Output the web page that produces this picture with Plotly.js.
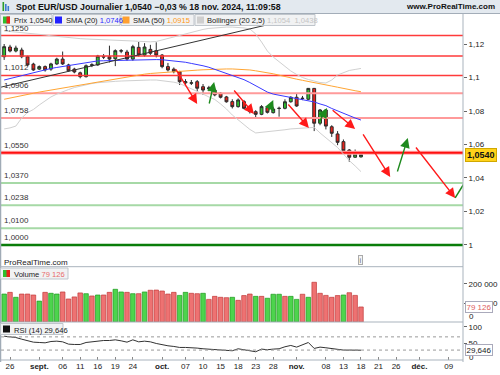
<!DOCTYPE html>
<html><head><meta charset="utf-8">
<script src="https://cdn.plot.ly/plotly-3.0.1.min.js"></script>
<style>html,body{margin:0;padding:0;background:#fff}#c{width:500px;height:375px}</style>
</head><body><div id="c"></div>
<script>
// ---------- DATA (daily bars, first bar = 23 Aug 2024) ----------
const firstDay = '2024-08-23';
const open  = [1.1124,1.1182,1.1158,1.1164,1.1124,1.1080,1.1050,1.1065,1.1050,1.1081,1.1110,1.1075,1.1050,1.1028,1.1005,1.1072,1.1075,1.1126,1.1124,1.1112,1.1160,1.1152,1.1110,1.1180,1.1134,1.1168,1.1160,1.1134,1.1065,1.1050,1.1035,1.0968,1.0966,1.0975,1.0945,1.0932,1.0925,1.0906,1.0884,1.0856,1.0826,1.0856,1.0816,1.0796,1.0780,1.0820,1.0790,1.0815,1.0816,1.0855,1.0882,1.0874,1.0870,1.0935,1.0727,1.0806,1.0706,1.0663,1.0617,1.0567,1.0524,1.0526];
const high  = [1.1200,1.1195,1.1190,1.1178,1.1130,1.1088,1.1072,1.1072,1.1088,1.1118,1.1155,1.1082,1.1058,1.1035,1.1078,1.1085,1.1135,1.1140,1.1190,1.1168,1.1170,1.1165,1.1195,1.1212,1.1205,1.1195,1.1210,1.1140,1.1087,1.1060,1.1040,1.0990,1.0985,1.0985,1.0961,1.0950,1.0935,1.0912,1.0890,1.0870,1.0875,1.0866,1.0825,1.0805,1.0835,1.0830,1.0825,1.0826,1.0870,1.0888,1.0906,1.0890,1.0937,1.0937,1.0812,1.0812,1.0715,1.0680,1.0630,1.0573,1.0570,1.0561];
const low   = [1.1105,1.1150,1.1150,1.1115,1.1068,1.1040,1.1045,1.1035,1.1040,1.1075,1.1075,1.1035,1.1025,1.0995,1.1000,1.1062,1.1070,1.1110,1.1090,1.1068,1.1145,1.1100,1.1100,1.1125,1.1125,1.1135,1.1120,1.1055,1.1036,1.1025,1.0955,1.0955,1.0955,1.0918,1.0896,1.0918,1.0888,1.0875,1.0850,1.0815,1.0820,1.0810,1.0785,1.0762,1.0775,1.0785,1.0785,1.0766,1.0810,1.0850,1.0825,1.0865,1.0865,1.0680,1.0715,1.0690,1.0645,1.0596,1.0555,1.0497,1.0520,1.0522];
const close = [1.1184,1.1158,1.1176,1.1124,1.1075,1.1045,1.1065,1.1045,1.1081,1.1110,1.1081,1.1040,1.1033,1.1005,1.1070,1.1076,1.1128,1.1122,1.1110,1.1160,1.1158,1.1110,1.1184,1.1135,1.1182,1.1145,1.1134,1.1065,1.1045,1.1035,1.0975,1.0975,1.0968,1.0936,1.0925,1.0938,1.0896,1.0882,1.0855,1.0826,1.0866,1.0816,1.0796,1.0780,1.0826,1.0792,1.0812,1.0816,1.0855,1.0882,1.0830,1.0876,1.0935,1.0727,1.0806,1.0710,1.0667,1.0613,1.0563,1.0524,1.0543,1.0540];
const sma20 = [1.0985,1.0994,1.1003,1.1009,1.1018,1.1027,1.1036,1.1045,1.1054,1.1060,1.1066,1.1072,1.1078,1.1084,1.1090,1.1093,1.1099,1.1100,1.1101,1.1103,1.1104,1.1104,1.1104,1.1106,1.1107,1.1107,1.1107,1.1106,1.1103,1.1099,1.1094,1.1091,1.1084,1.1078,1.1070,1.1061,1.1049,1.1039,1.1027,1.1015,1.1000,1.0987,1.0970,1.0952,1.0931,1.0913,1.0901,1.0894,1.0887,1.0881,1.0873,1.0867,1.0861,1.0854,1.0842,1.0832,1.0815,1.0800,1.0785,1.0770,1.0758,1.0746];
const sma50 = [1.0870,1.0878,1.0885,1.0891,1.0899,1.0906,1.0913,1.0919,1.0927,1.0934,1.0940,1.0946,1.0952,1.0958,1.0963,1.0970,1.0974,1.0979,1.0985,1.0991,1.0999,1.1005,1.1011,1.1016,1.1020,1.1024,1.1027,1.1030,1.1033,1.1036,1.1039,1.1041,1.1043,1.1044,1.1046,1.1048,1.1049,1.1050,1.1051,1.1051,1.1050,1.1048,1.1045,1.1040,1.1035,1.1029,1.1022,1.1014,1.1005,1.0997,1.0990,1.0983,1.0977,1.0970,1.0964,1.0957,1.0949,1.0942,1.0934,1.0927,1.0921,1.0915];
const bbUpper = [1.1278,1.1275,1.1272,1.1269,1.1266,1.1263,1.1259,1.1254,1.1249,1.1245,1.1241,1.1237,1.1234,1.1232,1.1230,1.1229,1.1227,1.1226,1.1224,1.1224,1.1222,1.1220,1.1218,1.1216,1.1214,1.1213,1.1215,1.1224,1.1233,1.1242,1.1254,1.1263,1.1272,1.1281,1.1287,1.1293,1.1297,1.1300,1.1301,1.1301,1.1299,1.1296,1.1290,1.1260,1.1212,1.1158,1.1122,1.1093,1.1066,1.1039,1.1018,1.1000,1.0988,1.0979,1.0970,1.0967,1.0985,1.1015,1.1030,1.1042,1.1048,1.1054];
const bbLower = [1.0693,1.0699,1.0710,1.0758,1.0791,1.0809,1.0836,1.0860,1.0884,1.0901,1.0916,1.0928,1.0940,1.0949,1.0957,1.0964,1.0969,1.0973,1.0975,1.0977,1.0979,1.0981,1.0983,1.0984,1.0985,1.0985,1.0985,1.0982,1.0978,1.0972,1.0964,1.0949,1.0934,1.0916,1.0901,1.0884,1.0869,1.0842,1.0812,1.0776,1.0746,1.0716,1.0690,1.0669,1.0672,1.0675,1.0678,1.0684,1.0688,1.0693,1.0696,1.0699,1.0703,1.0702,1.0669,1.0639,1.0609,1.0582,1.0543,1.0504,1.0472,1.0438];
const volume = [147000,156000,130000,147000,147000,142000,110000,156000,151000,147000,158000,121000,132000,153000,149000,137000,142000,142000,156000,172000,158000,156000,149000,149000,158000,167000,168000,163000,147000,156000,140000,156000,151000,149000,151000,119000,135000,130000,128000,130000,114000,139000,147000,135000,135000,125000,146000,146000,135000,135000,119000,146000,130000,209000,151000,140000,130000,139000,142000,154000,140000,79126];
const volumeDir = 'grgrrrgrggrrrrgrgrrggrgrgrrrrrggrrgrrrrgrrrgrgggrggrgrrrrrgr';
const rsi = [72,70,68,63,58,54,53,52,56,57,55,48,47,47,53,55,59,59,59,61,58,54,61,55,57,55,50,46,43,41,38,38,38,36,34,33,33,31,29,28,34,31,28,25,33,31,33,34,40,44,39,45,53,35,39,37,34,32,30,30,30,29.646];
// support / resistance levels
const levelValues = [1.1250,1.1128,1.1012,1.0906,1.0758,1.0550,1.0370,1.0238,1.0100,1.0000];
const levelLabels = ['1,1250','','1,1012','1,0906','1,0758','1,0550','1,0370','1,0238','1,0100','1,0000'];
// trend line (bar index, price)
const trendX = [-1.2, 53.6];
const trendY = [1.0937, 1.1385];
// scenario arrows: tail (bar index, price) -> head (bar index, price)
const arrowTailX = [29.2,35.0,39.1,45.1,48.35,53.65,55.9,61.2,67.15,70.2];
const arrowTailY = [1.1057,1.0836,1.0931,1.0794,1.0848,1.0722,1.0812,1.0669,1.0430,1.0591];
const arrowHeadX = [33.0,35.9,42.7,46.0,52.1,55.2,60.0,66.0,69.0,77.1];
const arrowHeadY = [1.0842,1.0973,1.0782,1.0866,1.0699,1.0818,1.0693,1.0406,1.0639,1.0281];
const arrowUp    = [false,true,false,true,false,true,false,false,true,false];
const lastLegX = [77.1, 79.2];
const lastLegY = [1.0281, 1.0400];
// x-axis labels
const tickDates = ['2024-08-26','2024-09-02','2024-09-06','2024-09-11','2024-09-16','2024-09-19','2024-09-24','2024-10-01','2024-10-07','2024-10-10','2024-10-15','2024-10-18','2024-10-23','2024-10-28','2024-11-01','2024-11-08','2024-11-13','2024-11-18','2024-11-21','2024-11-26','2024-12-02','2024-12-09'];
const tickLabels = ['26','<b>sept.</b>','06','11','16','19','24','<b>oct.</b>','07','10','15','18','23','28','<b>nov.</b>','08','13','18','21','26','<b>déc.</b>','09'];

// ---------- trading-day calendar ----------
const days = [];
{ let d = new Date(firstDay+'T12:00:00Z');
  while (days.length < 90) { const w=d.getUTCDay(); if (w!==0 && w!==6) days.push(d.toISOString().slice(0,10)); d = new Date(d.getTime()+86400000); } }
const xi = close.map((_,k)=>k);
const tickVals = tickDates.map(t=>days.indexOf(t));
const XR = [-0.54,78.44];

// ---------- pixel helpers for decoration ----------
const L=1,R=463,T=14,B=360;
const px = x => (x-L)/(R-L);
const py = y => (B-y)/(B-T);
const FONT = 'Liberation Sans, Arial, sans-serif';

const traces = [];
const shapes = [];
const ann = [];
// level lines
const levelStyle = [
  {c:'#ff3a3a',w:1.5},{c:'#ff3a3a',w:1.5},{c:'#ff3a3a',w:1.5},{c:'#ff9a9a',w:2},{c:'#ff9a9a',w:2},
  {c:'#ff1010',w:2,halo:'#ffb0b0'},{c:'#a6d9a6',w:2},{c:'#a6d9a6',w:2},{c:'#a6d9a6',w:2},{c:'#0a7d0a',w:2.5}];
levelValues.forEach((v,k)=>{
  const s = levelStyle[k];
  if (s.halo) traces.push({type:'scatter',mode:'lines',x:XR,y:[v,v],line:{color:s.halo,width:4},hoverinfo:'skip'});
  traces.push({type:'scatter',mode:'lines',x:XR,y:[v,v],line:{color:s.c,width:s.w},hoverinfo:'skip'});
  if (levelLabels[k]) ann.push({xref:'paper',yref:'y',x:px(2),y:v,xanchor:'left',yanchor:'bottom',yshift:1,text:levelLabels[k],showarrow:false,font:{size:8,color:'#333',family:FONT}});
});
traces.push(
  {type:'scatter',mode:'lines',x:xi,y:bbUpper,line:{color:'#d0d0d0',width:1},hoverinfo:'skip'},
  {type:'scatter',mode:'lines',x:xi,y:bbLower,line:{color:'#d0d0d0',width:1},hoverinfo:'skip'},
  {type:'scatter',mode:'lines',x:xi,y:sma50,line:{color:'#ffa533',width:1},hoverinfo:'skip'},
  {type:'scatter',mode:'lines',x:xi,y:sma20,line:{color:'#3a3aff',width:1},hoverinfo:'skip'},
  {type:'scatter',mode:'lines',x:trendX,y:trendY,line:{color:'#333',width:1},hoverinfo:'skip'},
  {type:'candlestick',x:xi,open:open,high:high,low:low,close:close,
   increasing:{line:{color:'#2b2b2b',width:1},fillcolor:'#2fbf2f'},
   decreasing:{line:{color:'#2b2b2b',width:1},fillcolor:'#e8231c'},hoverinfo:'skip'},
  {type:'scatter',mode:'lines',x:lastLegX,y:lastLegY,line:{color:'#1e8a1e',width:1.5},hoverinfo:'skip'},
  {type:'bar',x:xi,y:volume,yaxis:'y2',width:0.78,
   marker:{color:volume.map((_,k)=>volumeDir[k]==='g'?'#4dd44d':'#ee7272'),
           line:{color:volume.map((_,k)=>volumeDir[k]==='g'?'#1f9a1f':'#c23a3a'),width:0.7}},hoverinfo:'skip'},
  {type:'scatter',mode:'lines',x:xi,y:rsi,yaxis:'y3',line:{color:'#333',width:1},hoverinfo:'skip'},
  {type:'scatter',mode:'lines',x:XR,y:[30,30],yaxis:'y3',line:{color:'#999',width:1,dash:'3px,3px'},hoverinfo:'skip'},
  {type:'scatter',mode:'lines',x:XR,y:[70,70],yaxis:'y3',line:{color:'#999',width:1,dash:'3px,3px'},hoverinfo:'skip'}
);

// header band
shapes.push({type:'rect',xref:'paper',yref:'paper',x0:px(0),x1:px(500),y0:py(13.5),y1:py(0),fillcolor:'#e3e9ef',line:{width:0},layer:'above'});
shapes.push({type:'line',xref:'paper',yref:'paper',x0:px(0),x1:px(500),y0:py(13.5),y1:py(13.5),line:{color:'#a3adb8',width:1},layer:'above'});
// borders
shapes.push({type:'line',xref:'paper',yref:'paper',x0:px(463),x1:px(463),y0:py(362),y1:py(13.5),line:{color:'#a9b3bd',width:1},layer:'above'});
shapes.push({type:'line',xref:'paper',yref:'paper',x0:px(0.5),x1:px(0.5),y0:py(362),y1:py(13.5),line:{color:'#a0abb6',width:1.5},layer:'above'});
[266.7,322,360].forEach(y=>shapes.push({type:'line',xref:'paper',yref:'paper',x0:px(0),x1:px(463),y0:py(y),y1:py(y),line:{color:'#a9b3bd',width:1},layer:'above'}));

// arrows
arrowTailX.forEach((_,k)=>{
  ann.push({xref:'x',yref:'y',axref:'x',ayref:'y',x:arrowHeadX[k],y:arrowHeadY[k],ax:arrowTailX[k],ay:arrowTailY[k],
    showarrow:true,arrowhead:2,arrowsize:1.4,arrowwidth:1.4,arrowcolor:arrowUp[k]?'#1e8a1e':'#ff1a1a',text:'',standoff:0});
});

// header texts
ann.push({xref:'paper',yref:'paper',x:px(14),y:py(7),xanchor:'left',yanchor:'middle',showarrow:false,
  text:'<b>Spot EUR/USD Journalier 1,0540 −0,03 % 18 nov. 2024, 11:09:58</b>',font:{size:8.8,color:'#111',family:FONT}});
ann.push({xref:'paper',yref:'paper',x:px(497),y:py(7),xanchor:'right',yanchor:'middle',showarrow:false,
  text:'<b>www.ProRealTime.com</b>',font:{size:8,color:'#111',family:FONT}});
// header icon bars
[[2.5,9,'#2c9c2c'],[5,7,'#3b7bd0'],[7.5,5,'#3b7bd0']].forEach(b=>shapes.push({type:'rect',xref:'paper',yref:'paper',x0:px(b[0]),x1:px(b[0]+1.6),y0:py(11),y1:py(11-b[1]),fillcolor:b[2],line:{width:0},layer:'above'}));

// legend boxes
function legendBox(x0,x1,y0,y1){shapes.push({type:'rect',xref:'paper',yref:'paper',x0:px(x0),x1:px(x1),y0:py(y1),y1:py(y0),fillcolor:'#f1f2f3',line:{color:'#bfc5cb',width:1},layer:'above'});}
function square(x,y,c1,c2){shapes.push({type:'rect',xref:'paper',yref:'paper',x0:px(x),x1:px(x+7),y0:py(y+7),y1:py(y),fillcolor:c1,line:{width:0},layer:'above'});
  if(c2) shapes.push({type:'rect',xref:'paper',yref:'paper',x0:px(x+3.5),x1:px(x+7),y0:py(y+7),y1:py(y),fillcolor:c2,line:{width:0},layer:'above'});}
function ltext(x,y,t,size){ann.push({xref:'paper',yref:'paper',x:px(x),y:py(y),xanchor:'left',yanchor:'middle',showarrow:false,text:t,font:{size:size||7.6,color:'#222',family:FONT}});}
legendBox(0.5,52,14.5,25.5); square(3,16.5,'#2fbf2f','#e8231c'); ltext(12,20.5,'Prix 1,0540');
legendBox(53,120,14.5,25.5); square(55,16.5,'#2222ff'); ltext(64,20.5,'SMA (20) <span style="color:#2a2aff">1,0746</span>');
legendBox(121,194,14.5,25.5); square(122.5,16.5,'#ffa030'); ltext(131,20.5,'SMA (50) <span style="color:#ff9a20">1,0915</span>');
legendBox(195,315,14.5,25.5); square(197,16.5,'#cfcfcf'); ltext(205,20.5,'Bollinger (20 2,5) <span style="color:#c4c4c4">1,1054  1,0438</span>');
legendBox(0.5,68,268,279); square(3,270,'#2fbf2f','#e8231c'); ltext(12,274,'Volume <span style="color:#e86a6a">79 126</span>');
legendBox(0.5,63,323.5,334.5); square(3,325.5,'#111'); ltext(12,330,'RSI (14) 29,646');
ltext(2,262.5,'ProRealTime.com',8);
// info icon
ann.push({xref:'paper',yref:'paper',x:px(360),y:py(259.5),xanchor:'center',yanchor:'middle',showarrow:false,text:'i',
  font:{size:7,color:'#666',family:FONT},bgcolor:'#f4f4f4',bordercolor:'#aaa',borderwidth:1,borderpad:0.5});
// right side value boxes and edge tick labels
const axFont = {size:8,color:'#222',family:FONT};
function rlabel(y,t){ann.push({xref:'paper',yref:'paper',x:px(467),y:py(y),xanchor:'left',yanchor:'middle',showarrow:false,text:t,font:axFont});}
rlabel(316.5,'0'); rlabel(357,'0');
ann.push({xref:'paper',yref:'y',x:px(465),y:1.0540,xanchor:'left',yanchor:'middle',showarrow:false,text:'<b>1,0540</b>',
  font:{size:9,color:'#111',family:FONT},bgcolor:'#ffd21a',bordercolor:'#d1a800',borderwidth:1,borderpad:1});
ann.push({xref:'paper',yref:'y2',x:px(465),y:79126,xanchor:'left',yanchor:'middle',showarrow:false,text:'79 126',
  font:{size:8,color:'#e06060',family:FONT},bgcolor:'#ffffff',bordercolor:'#aab',borderwidth:1,borderpad:0.5});
ann.push({xref:'paper',yref:'y3',x:px(465),y:29.646,xanchor:'left',yanchor:'middle',showarrow:false,text:'29,646',
  font:{size:8,color:'#222',family:FONT},bgcolor:'#ffffff',bordercolor:'#aab',borderwidth:1,borderpad:0.5});

const layout = {
  width:500,height:375,margin:{l:L,r:500-R,t:T,b:375-B,pad:0},
  paper_bgcolor:'#fff',plot_bgcolor:'#fff',showlegend:false,font:{family:FONT},
  dragmode:false,
  xaxis:{range:XR,anchor:'y3',showgrid:false,zeroline:false,showline:false,
    tickvals:tickVals,ticktext:tickLabels,ticks:'inside',ticklen:3,tickcolor:'#888',tickfont:axFont,
    rangeslider:{visible:false},fixedrange:true},
  yaxis:{domain:[py(266.7),1],range:[0.98704,1.13791],side:'right',showgrid:false,zeroline:false,
    tickvals:[1,1.02,1.04,1.06,1.08,1.1,1.12],ticktext:['1','1,02','1,04','1,06','1,08','1,1','1,12'],
    ticks:'outside',ticklen:3,tickcolor:'#666',tickfont:axFont,fixedrange:true},
  yaxis2:{domain:[py(322),py(266.7)],range:[0,291000],side:'right',anchor:'x',showgrid:false,zeroline:false,
    tickvals:[100000,200000],ticktext:['100 000','200 000'],ticks:'outside',ticklen:3,tickcolor:'#666',tickfont:axFont,fixedrange:true},
  yaxis3:{domain:[0,py(322)],range:[0,115],side:'right',anchor:'x',showgrid:false,zeroline:false,
    tickvals:[50,100],ticktext:['50','100'],ticks:'outside',ticklen:3,tickcolor:'#666',tickfont:axFont,fixedrange:true},
  bargap:0.2,
  shapes:shapes,annotations:ann
};
Plotly.newPlot('c',traces,layout,{staticPlot:true,displayModeBar:false});
</script></body></html>
